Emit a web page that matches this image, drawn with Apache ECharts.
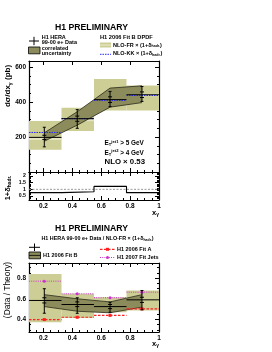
<!DOCTYPE html>
<html><head><meta charset="utf-8">
<script src="https://cdn.jsdelivr.net/npm/echarts@6/dist/echarts.min.js"></script>
<style>html,body{margin:0;padding:0;background:#fff}#c{width:272px;height:352px}</style>
</head><body><div id="c"></div>
<script>
// ---------- data ----------
const binEdges = [0.1, 0.325, 0.55, 0.775, 1.0];
const xPoints = [0.206, 0.434, 0.661, 0.882];

// upper panel: dsigma/dx_gamma (pb)
const xsecData   = [198, 305, 414, 442];
const xsecStatLo = [186, 290, 398, 426];
const xsecStatHi = [210, 320, 430, 458];
const xsecTotLo  = [144, 250, 374, 404];
const xsecTotHi  = [256, 357, 461, 489];
const corrLo     = [176, 268, 371, 397];
const corrHi     = [224, 345, 480, 493];
const nloFrLo    = [128, 235, 352, 352];
const nloFrHi    = [292, 367, 532, 495];
const nloFrMid   = [190, 298, 412, 440];
const nloKK      = [226, 305, 410, 438];

// hadronisation correction 1+delta_hadr
const hadrCorr = [0.75, 0.82, 1.22, 0.75];

// lower panel: Data / Theory
const ratioData   = [0.584, 0.545, 0.525, 0.590];
const ratioStatLo = [0.560, 0.525, 0.505, 0.565];
const ratioStatHi = [0.610, 0.570, 0.545, 0.615];
const ratioTotLo  = [0.461, 0.460, 0.470, 0.494];
const ratioTotHi  = [0.697, 0.610, 0.567, 0.680];
const fitBLo      = [0.525, 0.480, 0.465, 0.520];
const fitBHi      = [0.640, 0.600, 0.570, 0.640];
const scaleLo     = [0.374, 0.416, 0.470, 0.487];
const scaleHi     = [0.840, 0.648, 0.615, 0.680];
const fitA        = [0.400, 0.422, 0.440, 0.503];
const fitJets     = [0.770, 0.648, 0.610, 0.664];

// ticks
const xMajor = [0.2, 0.4, 0.6, 0.8, 1.0];
const xMinor = [0.15, 0.25, 0.3, 0.35, 0.45, 0.5, 0.55, 0.65, 0.7, 0.75, 0.85, 0.9, 0.95];
const yTopMajor = [200, 400, 600];
const yTopMinor = [50, 100, 150, 250, 300, 350, 450, 500, 550];
const yHadMajor = [0.5, 1, 1.5, 2];
const yHadMinor = [0.3, 0.4, 0.6, 0.7, 0.8, 0.9, 1.1, 1.2, 1.3, 1.4, 1.6, 1.7, 1.8, 1.9, 2.1, 2.2];
const yBotMajor = [0.4, 0.6, 0.8];
const yBotMinor = [0.3, 0.35, 0.45, 0.5, 0.55, 0.65, 0.7, 0.75, 0.85, 0.9];

// ---------- style ----------
const FONT = 'Liberation Sans, Arial, Helvetica, sans-serif';
const LIGHT = '#cdcd96';
const LIGHTER = '#e4e4c0';
const DARK = '#8b8b5c';

function makeX(g, showLabel) {
  const base = {gridIndex: g, type: 'value', min: 0.1, max: 1.0, splitLine: {show: false}};
  const line = {onZero: false, lineStyle: {color: '#000', width: 1.2}};
  return [
    Object.assign({}, base, {position: 'bottom', axisLine: line,
      axisTick: {inside: true, length: 4, customValues: xMajor, lineStyle: {color: '#000', width: 1}},
      axisLabel: {show: showLabel, customValues: xMajor, color: '#000', fontFamily: FONT, fontWeight: 'bold', fontSize: 6.5, margin: 3}}),
    Object.assign({}, base, {position: 'bottom', axisLine: {show: false},
      axisTick: {inside: true, length: 2, customValues: xMinor, lineStyle: {color: '#000', width: 1}}, axisLabel: {show: false}}),
    Object.assign({}, base, {position: 'top', axisLine: line,
      axisTick: {inside: true, length: 4, customValues: xMajor, lineStyle: {color: '#000', width: 1}}, axisLabel: {show: false}}),
    Object.assign({}, base, {position: 'top', axisLine: {show: false},
      axisTick: {inside: true, length: 2, customValues: xMinor, lineStyle: {color: '#000', width: 1}}, axisLabel: {show: false}})
  ];
}
function makeY(g, min, max, major, minor, fs) {
  const base = {gridIndex: g, type: 'value', min: min, max: max, splitLine: {show: false}};
  const line = {onZero: false, lineStyle: {color: '#000', width: 1.2}};
  return [
    Object.assign({}, base, {position: 'left', axisLine: line,
      axisTick: {inside: true, length: 4, customValues: major, lineStyle: {color: '#000', width: 1}},
      axisLabel: {customValues: major, color: '#000', fontFamily: FONT, fontWeight: 'bold', fontSize: fs, margin: 3}}),
    Object.assign({}, base, {position: 'left', axisLine: {show: false},
      axisTick: {inside: true, length: 2, customValues: minor, lineStyle: {color: '#000', width: 1}}, axisLabel: {show: false}}),
    Object.assign({}, base, {position: 'right', axisLine: line,
      axisTick: {inside: true, length: 4, customValues: major, lineStyle: {color: '#000', width: 1}}, axisLabel: {show: false}}),
    Object.assign({}, base, {position: 'right', axisLine: {show: false},
      axisTick: {inside: true, length: 2, customValues: minor, lineStyle: {color: '#000', width: 1}}, axisLabel: {show: false}})
  ];
}

// ---------- render helpers ----------
function boxSeries(ax, lo, hi, fill) {
  return {type: 'custom', xAxisIndex: ax, yAxisIndex: ax, silent: true,
    data: lo.map((v, i) => [binEdges[i], binEdges[i + 1], lo[i], hi[i]]),
    renderItem: (p, api) => {
      const a = api.coord([api.value(0), api.value(3)]);
      const b = api.coord([api.value(1), api.value(2)]);
      return {type: 'rect', shape: {x: a[0], y: a[1], width: b[0] - a[0], height: b[1] - a[1]}, style: {fill: fill}};
    }};
}
function binLineSeries(ax, vals, style, markerColor, markerShape) {
  return {type: 'custom', xAxisIndex: ax, yAxisIndex: ax, silent: true,
    data: vals.map((v, i) => [binEdges[i], binEdges[i + 1], v, xPoints[i]]),
    renderItem: (p, api) => {
      const a = api.coord([api.value(0), api.value(2)]);
      const b = api.coord([api.value(1), api.value(2)]);
      const children = [{type: 'line', shape: {x1: a[0], y1: a[1], x2: b[0], y2: b[1]}, style: style}];
      if (markerColor) {
        const m = api.coord([api.value(3), api.value(2)]);
        if (markerShape === 'circle') children.push({type: 'circle', shape: {cx: m[0], cy: m[1], r: 1.5}, style: {fill: markerColor}});
        else children.push({type: 'rect', shape: {x: m[0] - 1.5, y: m[1] - 1.5, width: 3, height: 3}, style: {fill: markerColor}});
      }
      return {type: 'group', children: children};
    }};
}
function bandSeries(ax, lo, hi) {
  return {type: 'custom', xAxisIndex: ax, yAxisIndex: ax, silent: true,
    data: [[0]],
    renderItem: (p, api) => {
      const up = xPoints.map((x, i) => api.coord([x, hi[i]]));
      const dn = xPoints.map((x, i) => api.coord([x, lo[i]]));
      const poly = up.concat(dn.slice().reverse());
      return {type: 'group', children: [
        {type: 'polygon', shape: {points: poly}, style: {fill: DARK}},
        {type: 'polyline', shape: {points: up}, style: {stroke: '#2a2a18', lineWidth: 0.8, fill: null}},
        {type: 'polyline', shape: {points: dn}, style: {stroke: '#2a2a18', lineWidth: 0.8, fill: null}}
      ]};
    }};
}
function dataSeries(ax, y, sLo, sHi, tLo, tHi) {
  return {type: 'custom', xAxisIndex: ax, yAxisIndex: ax, silent: true,
    data: y.map((v, i) => [xPoints[i], v, sLo[i], sHi[i], tLo[i], tHi[i], binEdges[i], binEdges[i + 1]]),
    renderItem: (p, api) => {
      const st = {stroke: '#000', lineWidth: 1};
      const c = api.coord([api.value(0), api.value(1)]);
      const l = api.coord([api.value(6), api.value(1)]);
      const r = api.coord([api.value(7), api.value(1)]);
      const t0 = api.coord([api.value(0), api.value(4)]);
      const t1 = api.coord([api.value(0), api.value(5)]);
      const s0 = api.coord([api.value(0), api.value(2)]);
      const s1 = api.coord([api.value(0), api.value(3)]);
      const tick = (pt, w) => ({type: 'line', shape: {x1: pt[0] - w, y1: pt[1], x2: pt[0] + w, y2: pt[1]}, style: st});
      return {type: 'group', children: [
        {type: 'line', shape: {x1: l[0], y1: l[1], x2: r[0], y2: r[1]}, style: st},
        {type: 'line', shape: {x1: c[0], y1: t0[1], x2: c[0], y2: t1[1]}, style: st},
        tick(t0, 1.5), tick(t1, 1.5), tick(s0, 2), tick(s1, 2)
      ]};
    }};
}

// ---------- text helpers ----------
function richStyle(fs, bold) {
  const w = bold ? 'bold' : 'normal';
  return {
    n: {fontSize: fs, fontWeight: w, fontFamily: FONT, fill: '#000', lineHeight: fs * 1.2, verticalAlign: 'middle'},
    s: {fontSize: fs * 0.65, fontWeight: w, fontFamily: FONT, fill: '#000', lineHeight: fs * 0.6, verticalAlign: 'bottom'},
    p: {fontSize: fs * 0.65, fontWeight: w, fontFamily: FONT, fill: '#000', lineHeight: fs * 0.6, verticalAlign: 'top'}
  };
}
function txt(x, y, text, fs, bold, align, rot) {
  return {type: 'text', x: x, y: y, rotation: rot || 0, silent: true,
    style: {text: text, rich: richStyle(fs, bold), align: align || 'left', verticalAlign: 'middle', fill: '#000',
      font: (bold ? 'bold ' : '') + fs + 'px ' + FONT}};
}
function gline(x1, y1, x2, y2, stroke, w, dash) {
  return {type: 'line', silent: true, shape: {x1: x1, y1: y1, x2: x2, y2: y2}, style: {stroke: stroke, lineWidth: w, lineDash: dash || null}};
}
function grect(x, y, w, h, fill, stroke) {
  return {type: 'rect', silent: true, shape: {x: x, y: y, width: w, height: h}, style: {fill: fill, stroke: stroke || null, lineWidth: 0.8}};
}

const graphics = [
  // upper title & legends
  txt(91.5, 27.5, '{n|H1 PRELIMINARY}', 8.7, true, 'center'),
  gline(29, 41, 39, 41, '#000', 1), gline(34, 36.8, 34, 45.2, '#000', 1),
  txt(41.7, 37.5, '{n|H1 HERA}', 5.5, true),
  txt(41.7, 42.6, '{n|99-00 e+ Data}', 5.5, true),
  grect(28.5, 47, 11.5, 6.8, DARK, '#000'),
  txt(41.7, 48.4, '{n|correlated}', 5.5, true),
  txt(41.7, 53.4, '{n|uncertainty}', 5.5, true),
  txt(100, 37.5, '{n|H1 2006 Fit B DPDF}', 5.7, true),
  grect(100, 42.5, 11, 5, LIGHT), grect(100, 44.4, 11, 1.4, LIGHTER),
  txt(113, 45, '{n|NLO-FR × (1+δ}{s|hadr.}{n|)}', 5.5, true),
  gline(100, 54.3, 111, 54.3, '#2a2aff', 1, [1.5, 1]),
  txt(113, 53.8, '{n|NLO-KK × (1+δ}{s|hadr.}{n|)}', 5.5, true),
  // axis titles
  txt(8, 86, '{n|dσ/dx}{s|γ}{n| (pb)}', 8, true, 'center', Math.PI / 2),
  txt(8, 188, '{n|1+δ}{s|hadr.}', 7.5, true, 'center', Math.PI / 2),
  txt(7.5, 290, '{n|(Data / Theory)}', 8.4, false, 'center', Math.PI / 2),
  txt(152, 212.5, '{n|x}{s|γ}', 7.5, true),
  txt(152, 343.5, '{n|x}{s|γ}', 7.5, true),
  // cuts
  txt(104.5, 143.5, '{n|E}{s|T}{p|jet1}{n| > 5 GeV}', 6.4, true),
  txt(104.5, 152.8, '{n|E}{s|T}{p|jet2}{n| > 4 GeV}', 6.4, true),
  txt(104.5, 161.8, '{n|NLO × 0.53}', 7.8, true),
  // lower title & legends
  txt(91.5, 228.5, '{n|H1 PRELIMINARY}', 8.7, true, 'center'),
  txt(97.5, 239, '{n|H1 HERA 99-00 e+ Data / NLO-FR × (1+δ}{s|hadr.}{n|)}', 5.4, true, 'center'),
  gline(29, 247.3, 40, 247.3, '#000', 1), gline(34.5, 243.5, 34.5, 251, '#000', 1),
  grect(29, 252, 11.5, 6.8, DARK, '#000'),
  gline(29, 255.4, 40.5, 255.4, '#000', 0.8),
  txt(43, 255.4, '{n|H1 2006 Fit B}', 5.5, true),
  gline(100, 249.3, 115, 249.3, '#ff2020', 1.2, [2.5, 1.5]),
  grect(106, 247.8, 3, 3, '#ff2020'),
  txt(117, 249.3, '{n|H1 2006 Fit A}', 5.5, true),
  gline(100, 257.5, 115, 257.5, '#cc33cc', 1, [1, 1.2]),
  {type: 'circle', silent: true, shape: {cx: 107.5, cy: 257.5, r: 1.5}, style: {fill: '#cc33cc'}},
  txt(117, 257.5, '{n|H1 2007 Fit Jets}', 5.5, true)
];

const option = {
  animation: false,
  grid: [
    {left: 29, top: 61, width: 130, height: 111},
    {left: 29, top: 172, width: 130, height: 28},
    {left: 29, top: 263, width: 130, height: 69}
  ],
  xAxis: [].concat(makeX(0, false), makeX(1, true), makeX(2, true)),
  yAxis: [].concat(
    makeY(0, 0, 635, yTopMajor, yTopMinor, 6.5),
    makeY(1, 0.2, 2.3, yHadMajor, yHadMinor, 5.2),
    makeY(2, 0.28, 0.945, yBotMajor, yBotMinor, 6.5)),
  series: [
    // upper
    boxSeries(0, nloFrLo, nloFrHi, LIGHT),
    binLineSeries(0, nloFrMid, {stroke: LIGHTER, lineWidth: 2.5}),
    bandSeries(0, corrLo, corrHi),
    binLineSeries(0, nloKK, {stroke: '#2a2aff', lineWidth: 1, lineDash: [1.5, 1]}),
    dataSeries(0, xsecData, xsecStatLo, xsecStatHi, xsecTotLo, xsecTotHi),
    // hadronisation correction
    {type: 'line', xAxisIndex: 4, yAxisIndex: 4, silent: true, symbol: 'none',
      data: [[binEdges[0], 1], [binEdges[binEdges.length - 1], 1]],
      lineStyle: {color: '#999', width: 1, type: [2, 1.5]}},
    {type: 'line', xAxisIndex: 4, yAxisIndex: 4, silent: true, symbol: 'none', step: 'end',
      data: binEdges.map((x, i) => [x, hadrCorr[Math.min(i, hadrCorr.length - 1)]]),
      lineStyle: {color: '#000', width: 1.1}},
    // lower
    boxSeries(8, scaleLo, scaleHi, LIGHT),
    bandSeries(8, fitBLo, fitBHi),
    binLineSeries(8, fitA, {stroke: '#ff2020', lineWidth: 1.2, lineDash: [2.5, 1.5]}, '#ff2020', 'rect'),
    binLineSeries(8, fitJets, {stroke: '#cc33cc', lineWidth: 1, lineDash: [1, 1.2]}, '#cc33cc', 'circle'),
    dataSeries(8, ratioData, ratioStatLo, ratioStatHi, ratioTotLo, ratioTotHi)
  ],
  graphic: graphics
};
const chart = echarts.init(document.getElementById('c'), null, {renderer: 'canvas'});
chart.setOption(option);
</script></body></html>
